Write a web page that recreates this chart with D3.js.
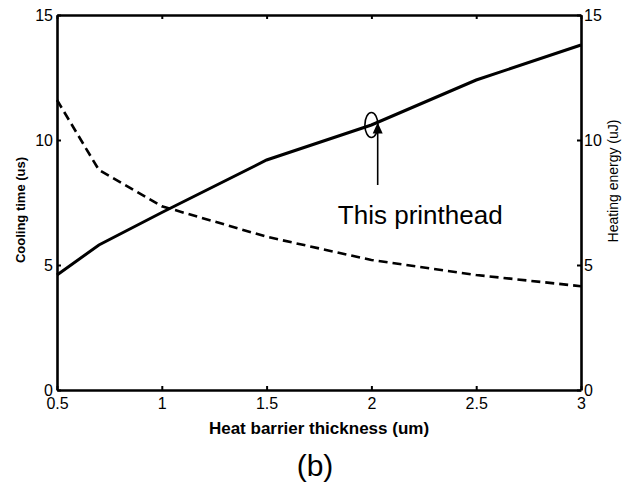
<!DOCTYPE html>
<html>
<head>
<meta charset="utf-8">
<script src="https://cdn.jsdelivr.net/npm/d3@7"></script>
<style>
  body { margin: 0; background: #fff; }
  text { font-family: "Liberation Sans", Arial, sans-serif; fill: #000; }
</style>
</head>
<body>
<script>
//data
var thickness = [0.5, 0.7, 1, 1.5, 2, 2.5, 3];
var solidSeries = [4.6, 5.8, 7.1, 9.2, 10.6, 12.4, 13.8];
var dashedSeries = [11.6, 8.8, 7.35, 6.13, 5.2, 4.6, 4.15];
var xTicks = [0.5, 1, 1.5, 2, 2.5, 3];
var yTicks = [0, 5, 10, 15];

//Define Margin
var margin = { left: 57, right: 54, top: 15, bottom: 95 },
    width = 635 - margin.left - margin.right,
    height = 485 - margin.top - margin.bottom;

var svg = d3.select("body")
    .append("svg")
    .attr("width", 635)
    .attr("height", 485);

var g = svg.append("g")
    .attr("transform", "translate(" + margin.left + "," + margin.top + ")");

var x = d3.scaleLinear().domain([0.5, 3]).range([0, width]);
var y = d3.scaleLinear().domain([0, 15]).range([height, 0]);

//=================================================
//axes (box with inward ticks)
//=================================================
function styleAxis(sel) {
    sel.select(".domain").attr("stroke", "#000").attr("stroke-width", 2.6);
    sel.selectAll(".tick line").attr("stroke", "#000").attr("stroke-width", 2);
    sel.selectAll(".tick text")
        .attr("font-size", 16)
        .attr("font-family", "Liberation Sans, Arial, sans-serif")
        .attr("fill", "#000");
}

g.append("g")
    .attr("transform", "translate(0," + height + ")")
    .call(d3.axisBottom(x).tickValues(xTicks).tickSizeInner(-4).tickSizeOuter(0).tickPadding(8)
        .tickFormat(d3.format("")))
    .call(styleAxis);

g.append("g")
    .call(d3.axisTop(x).tickValues(xTicks).tickSizeInner(-4).tickSizeOuter(0).tickFormat(""))
    .call(styleAxis);

g.append("g")
    .call(d3.axisLeft(y).tickValues(yTicks).tickSizeInner(-4).tickSizeOuter(0).tickPadding(4))
    .call(styleAxis);

g.append("g")
    .attr("transform", "translate(" + width + ",0)")
    .call(d3.axisRight(y).tickValues(yTicks).tickSizeInner(-4).tickSizeOuter(0).tickPadding(3))
    .call(styleAxis);

//=================================================
//lines
//=================================================
var line = d3.line()
    .x(function (d) { return x(d[0]); })
    .y(function (d) { return y(d[1]); });

g.append("path")
    .datum(d3.zip(thickness, solidSeries))
    .attr("fill", "none")
    .attr("stroke", "#000")
    .attr("stroke-width", 3)
    .attr("d", line);

g.append("path")
    .datum(d3.zip(thickness, dashedSeries))
    .attr("fill", "none")
    .attr("stroke", "#000")
    .attr("stroke-width", 2.6)
    .attr("stroke-dasharray", "9,5")
    .attr("d", line);

//=================================================
//annotation
//=================================================
g.append("ellipse")
    .attr("cx", x(2.0))
    .attr("cy", y(10.6))
    .attr("rx", 6.5)
    .attr("ry", 12.5)
    .attr("fill", "none")
    .attr("stroke", "#000")
    .attr("stroke-width", 1.6);

var ax = x(2.03);
g.append("line")
    .attr("x1", ax).attr("x2", ax)
    .attr("y1", y(8.2)).attr("y2", y(10.3))
    .attr("stroke", "#000")
    .attr("stroke-width", 1.6);

g.append("path")
    .attr("d", "M" + ax + "," + y(10.7) + "L" + (ax - 5) + "," + y(10.26) + "L" + (ax + 5) + "," + y(10.26) + "Z")
    .attr("fill", "#000");

g.append("text")
    .attr("x", x(1.84))
    .attr("y", y(6.64))
    .attr("font-size", 26)
    .text("This printhead");

//=================================================
//labels
//=================================================
svg.append("text")
    .attr("x", margin.left + width / 2)
    .attr("y", 434)
    .attr("text-anchor", "middle")
    .attr("font-size", 17)
    .attr("font-weight", "bold")
    .text("Heat barrier thickness (um)");

svg.append("text")
    .attr("transform", "translate(25,210) rotate(-90)")
    .attr("text-anchor", "middle")
    .attr("font-size", 13)
    .attr("font-weight", "bold")
    .text("Cooling time (us)");

svg.append("text")
    .attr("transform", "translate(618,181) rotate(-90)")
    .attr("text-anchor", "middle")
    .attr("font-size", 14)
    .text("Heating energy (uJ)");

svg.append("text")
    .attr("x", 315)
    .attr("y", 476)
    .attr("text-anchor", "middle")
    .attr("font-size", 30)
    .text("(b)");
</script>
</body>
</html>
